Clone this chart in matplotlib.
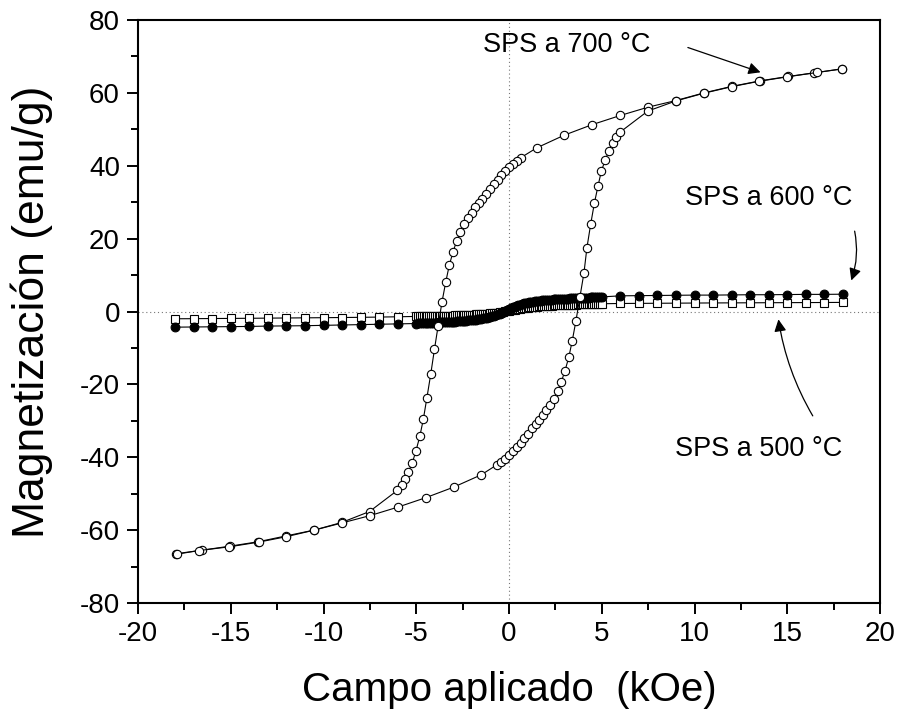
import matplotlib
matplotlib.use("Agg")
import matplotlib.pyplot as plt
from matplotlib.ticker import MultipleLocator

plt.rcParams["font.family"] = ["Liberation Sans", "DejaVu Sans"]
plt.rcParams["axes.unicode_minus"] = False

# ── SPS 700 °C: hysteresis loop, descending branch (+18 -> -18 kOe) ──────────
h700_down = [17.97, 16.45, 15.04, 13.53, 12.02, 10.51, 9.0, 7.51, 6.0, 4.49,
             2.98, 1.49, 0.63, 0.41, 0.21, 0.0, -0.2, -0.41, -0.62, -0.82,
             -1.02, -1.23, -1.43, -1.62, -1.81, -2.02, -2.21, -2.41, -2.62,
             -2.82, -3.02, -3.22, -3.41, -3.61, -3.82, -4.02, -4.22, -4.43,
             -4.62, -4.81, -5.02, -5.21, -5.42, -5.61, -5.79, -6.02, -7.52,
             -9.02, -10.51, -12.03, -13.53, -15.04, -16.55, -17.97]
m700_down = [66.6, 65.5, 64.5, 63.3, 61.8, 60.0, 57.9, 56.1, 53.8, 51.3,
             48.4, 44.9, 42.2, 41.4, 40.6, 39.6, 38.5, 37.4, 36.1, 34.9,
             33.6, 32.2, 31.0, 29.8, 28.6, 27.1, 25.7, 24.0, 21.9,
             19.4, 16.3, 12.7, 8.1, 2.7, -3.9, -10.4, -17.2, -23.8,
             -29.6, -34.3, -38.3, -41.5, -44.0, -46.0, -47.6, -49.1, -54.9,
             -57.9, -60.0, -61.6, -63.2, -64.4, -65.5, -66.5]

# ascending branch (-18 -> +18 kOe)
h700_up = [-17.9, -16.7, -15.1, -13.5, -12.0, -10.5, -8.98, -7.48, -6.0, -4.49,
           -2.98, -1.49, -0.63, -0.41, -0.21, 0.0, 0.2, 0.41, 0.62, 0.82,
           1.02, 1.23, 1.43, 1.62, 1.81, 2.02, 2.21, 2.41, 2.62,
           2.82, 3.02, 3.22, 3.41, 3.61, 3.82, 4.04, 4.2, 4.4,
           4.6, 4.8, 4.98, 5.19, 5.38, 5.58, 5.78, 5.98, 7.48,
           9.0, 10.5, 12.0, 13.5, 15.0, 16.6, 17.97]
m700_up = [-66.6, -65.6, -64.6, -63.3, -61.8, -60.0, -58.0, -56.0, -53.7, -51.1,
           -48.2, -44.8, -42.0, -41.2, -40.4, -39.5, -38.4, -37.3, -36.0, -34.8,
           -33.5, -32.1, -30.9, -29.7, -28.5, -27.0, -25.6, -23.9, -21.8,
           -19.3, -16.2, -12.6, -8.0, -2.5, 3.9, 10.6, 17.5, 23.9,
           29.7, 34.5, 38.6, 41.6, 44.0, 46.3, 48.0, 49.2, 55.0,
           57.8, 59.9, 61.7, 63.2, 64.4, 65.6, 66.6]

# ── SPS 600 °C and 500 °C: field grid (1 kOe steps outside ±5, 0.1 inside) ──
h_low = [-18, -17, -16, -15, -14, -13, -12, -11, -10, -9, -8, -7, -6]
h_dense = [-5.0, -4.9, -4.8, -4.7, -4.6, -4.5, -4.4, -4.3, -4.2, -4.1,
           -4.0, -3.9, -3.8, -3.7, -3.6, -3.5, -3.4, -3.3, -3.2, -3.1,
           -3.0, -2.9, -2.8, -2.7, -2.6, -2.5, -2.4, -2.3, -2.2, -2.1,
           -2.0, -1.9, -1.8, -1.7, -1.6, -1.5, -1.4, -1.3, -1.2, -1.1,
           -1.0, -0.9, -0.8, -0.7, -0.6, -0.5, -0.4, -0.3, -0.2, -0.1,
           0.0, 0.1, 0.2, 0.3, 0.4, 0.5, 0.6, 0.7, 0.8, 0.9,
           1.0, 1.1, 1.2, 1.3, 1.4, 1.5, 1.6, 1.7, 1.8, 1.9,
           2.0, 2.1, 2.2, 2.3, 2.4, 2.5, 2.6, 2.7, 2.8, 2.9,
           3.0, 3.1, 3.2, 3.3, 3.4, 3.5, 3.6, 3.7, 3.8, 3.9,
           4.0, 4.1, 4.2, 4.3, 4.4, 4.5, 4.6, 4.7, 4.8, 4.9,
           5.0]
h_high = [6, 7, 8, 9, 10, 11, 12, 13, 14, 15, 16, 17, 18]

m600_low = [-4.3, -4.25, -4.2, -4.15, -4.1, -4.0, -3.95, -3.9, -3.8, -3.7, -3.6, -3.5, -3.4]
m600_dense = [-3.30, -3.28, -3.25, -3.23, -3.20, -3.18, -3.15, -3.13, -3.10, -3.08,
              -3.05, -3.03, -3.00, -2.98, -2.95, -2.93, -2.90, -2.88, -2.85, -2.83,
              -2.80, -2.75, -2.70, -2.68, -2.65, -2.60, -2.55, -2.50, -2.45, -2.40,
              -2.35, -2.28, -2.20, -2.13, -2.05, -1.98, -1.90, -1.80, -1.70, -1.58,
              -1.45, -1.30, -1.15, -0.98, -0.80, -0.60, -0.40, -0.15, 0.10, 0.35,
              0.60, 0.85, 1.10, 1.30, 1.50, 1.70, 1.90, 2.05, 2.20, 2.33,
              2.45, 2.55, 2.65, 2.73, 2.80, 2.88, 2.95, 3.00, 3.05, 3.10,
              3.15, 3.20, 3.25, 3.28, 3.30, 3.35, 3.40, 3.43, 3.45, 3.48,
              3.50, 3.53, 3.55, 3.58, 3.60, 3.63, 3.65, 3.68, 3.70, 3.73,
              3.75, 3.78, 3.80, 3.83, 3.85, 3.88, 3.90, 3.93, 3.95, 3.98,
              4.00]
m600_high = [4.3, 4.35, 4.4, 4.45, 4.5, 4.5, 4.55, 4.6, 4.6, 4.65, 4.7, 4.7, 4.75]

m500_low = [-2.0, -1.97, -1.93, -1.9, -1.86, -1.82, -1.78, -1.74, -1.7, -1.65, -1.6, -1.53, -1.45]
m500_dense = [-1.35, -1.34, -1.33, -1.32, -1.31, -1.30, -1.29, -1.28, -1.27, -1.26,
              -1.25, -1.24, -1.22, -1.21, -1.19, -1.18, -1.16, -1.15, -1.13, -1.12,
              -1.10, -1.08, -1.06, -1.04, -1.02, -1.00, -0.98, -0.96, -0.93, -0.91,
              -0.88, -0.85, -0.82, -0.79, -0.76, -0.73, -0.69, -0.65, -0.61, -0.57,
              -0.52, -0.47, -0.41, -0.35, -0.28, -0.21, -0.13, -0.04, 0.05, 0.15,
              0.25, 0.35, 0.45, 0.54, 0.63, 0.72, 0.80, 0.88, 0.95, 1.02,
              1.08, 1.14, 1.20, 1.25, 1.30, 1.35, 1.39, 1.43, 1.47, 1.51,
              1.54, 1.57, 1.60, 1.63, 1.66, 1.69, 1.71, 1.74, 1.76, 1.78,
              1.80, 1.82, 1.84, 1.86, 1.88, 1.90, 1.92, 1.94, 1.95, 1.97,
              1.98, 2.00, 2.01, 2.03, 2.04, 2.06, 2.07, 2.09, 2.10, 2.12,
              2.13]
m500_high = [2.2, 2.23, 2.26, 2.29, 2.32, 2.35, 2.37, 2.39, 2.41, 2.43, 2.45, 2.47, 2.5]

h_grid = h_low + h_dense + h_high
m600 = m600_low + m600_dense + m600_high
m500 = m500_low + m500_dense + m500_high

fig = plt.figure(figsize=(8.99, 7.12), dpi=100)
ax = fig.add_axes([0.1535, 0.1531, 0.8254, 0.8188])

ax.axhline(0, color="#777", linestyle=(0, (1, 2.5)), linewidth=0.8, zorder=0)
ax.axvline(0, color="#777", linestyle=(0, (1, 2.5)), linewidth=0.8, zorder=0)

ax.plot(h_grid, m500, color="black", linewidth=0.8, marker="s", markersize=5.2,
        markerfacecolor="white", markeredgecolor="black", markeredgewidth=0.8, zorder=2)
ax.plot(h_grid, m600, color="black", linewidth=0.8, marker="o", markersize=6.3,
        markerfacecolor="black", markeredgecolor="black", markeredgewidth=0.8, zorder=3)
for h, m in ((h700_down, m700_down), (h700_up, m700_up)):
    ax.plot(h, m, color="black", linewidth=0.8, marker="o", markersize=6,
            markerfacecolor="white", markeredgecolor="black", markeredgewidth=0.8, zorder=4)

# ── annotations ──────────────────────────────────────────────────────────────
arrow = dict(arrowstyle="-|>", color="black", linewidth=0.9, mutation_scale=18)
ax.text(3.1, 73.1, "SPS a 700 °C", fontsize=19.5, ha="center", va="center")
ax.annotate("", xy=(13.7, 65.4), xytext=(9.5, 72.7), arrowprops=arrow)
ax.text(14.0, 31.1, "SPS a 600 °C", fontsize=19.5, ha="center", va="center")
ax.annotate("", xy=(18.4, 7.8), xytext=(18.6, 22.8),
            arrowprops=dict(arrow, connectionstyle="arc3,rad=-0.15"))
ax.text(13.45, -37.7, "SPS a 500 °C", fontsize=19.5, ha="center", va="center")
ax.annotate("", xy=(14.5, -1.4), xytext=(16.45, -29.3),
            arrowprops=dict(arrow, connectionstyle="arc3,rad=-0.1"))

# ── axes styling ─────────────────────────────────────────────────────────────
ax.set_xlim(-20, 20)
ax.set_ylim(-80, 80)
ax.xaxis.set_major_locator(MultipleLocator(5))
ax.xaxis.set_minor_locator(MultipleLocator(2.5))
ax.yaxis.set_major_locator(MultipleLocator(20))
ax.yaxis.set_minor_locator(MultipleLocator(10))
ax.tick_params(which="both", direction="out", top=False, right=False,
               width=1.4, labelsize=20)
ax.tick_params(which="major", length=8, pad=5)
ax.tick_params(which="minor", length=5)
for sp in ax.spines.values():
    sp.set_linewidth(1.5)

ax.set_xlabel("Campo aplicado  (kOe)", fontsize=29, labelpad=17)
ax.set_ylabel("Magnetización (emu/g)", fontsize=32, labelpad=19)

fig.savefig("out.png", dpi=100)
